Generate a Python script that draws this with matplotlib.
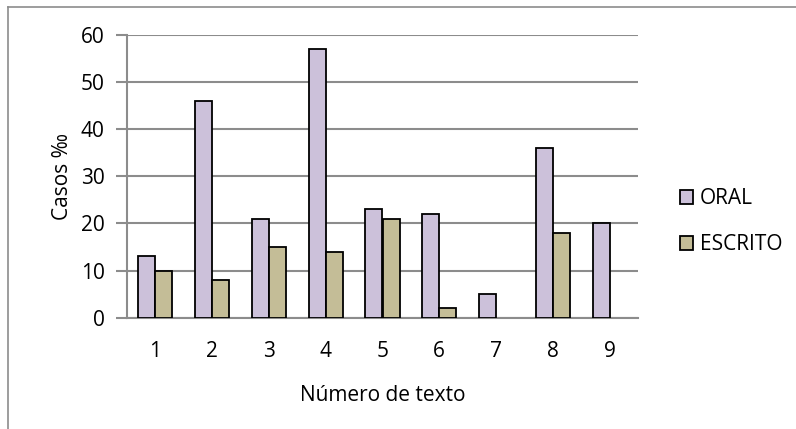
import numpy as np
import matplotlib.pyplot as plt
from matplotlib.lines import Line2D

plt.rcParams['font.family'] = ['Open Sans', 'DejaVu Sans']

# datos por texto
textos = ['1', '2', '3', '4', '5', '6', '7', '8', '9']
oral = [13, 46, 21, 57, 23, 22, 5, 36, 20]
escrito = [10, 8, 15, 14, 21, 2, 0, 18, 0]

color_oral = '#CCC1DA'
color_escrito = '#C4BD97'
gris = '#8C8C8C'
fs = 15

fig = plt.figure(figsize=(7.96, 4.29), dpi=100, facecolor='white')
ax = fig.add_axes([127 / 796, 1 - 317.7 / 429, (638 - 127) / 796, (317.7 - 34.7) / 429])

x = np.arange(len(textos))
w = 0.3
b1 = ax.bar(x - w / 2, oral, w, color=color_oral, edgecolor='black', linewidth=1.3, label='ORAL', zorder=3)
b2 = ax.bar(x + w / 2, escrito, w, color=color_escrito, edgecolor='black', linewidth=1.3, label='ESCRITO', zorder=3)
# las barras con valor 0 no se dibujan
for p in list(b1) + list(b2):
    if p.get_height() == 0:
        p.set_visible(False)

ax.set_xlim(-0.5, len(textos) - 0.5)
ax.set_ylim(0, 60)
ax.set_yticks(range(0, 61, 10))
ax.set_xticks(x)
ax.set_xticklabels(textos)
ax.yaxis.grid(True, color=gris, linewidth=1.5, zorder=0)
ax.set_axisbelow(True)

for s in ['top', 'right']:
    ax.spines[s].set_visible(False)
for s in ['left', 'bottom']:
    ax.spines[s].set_color(gris)
    ax.spines[s].set_linewidth(1.5)

ax.tick_params(axis='y', length=8, width=1.5, color=gris, labelsize=fs, pad=8)
ax.tick_params(axis='x', length=0, labelsize=fs, pad=17)

ax.set_xlabel('Número de texto', fontsize=fs, labelpad=16)
ax.set_ylabel('Casos ‰', fontsize=fs, labelpad=6)

ax.legend(loc='center left', bbox_to_anchor=(1.045, 0.34), frameon=False, fontsize=fs,
          handlelength=0.65, handleheight=0.65, handletextpad=0.3, labelspacing=1.2)

# marco exterior del gráfico
fig.add_artist(Line2D([8 / 796, 1], [1 - 7 / 429] * 2, color=gris, linewidth=1.2, transform=fig.transFigure))
fig.add_artist(Line2D([8 / 796] * 2, [0, 1 - 7 / 429], color=gris, linewidth=1.2, transform=fig.transFigure))

fig.savefig('out.png', dpi=100)
